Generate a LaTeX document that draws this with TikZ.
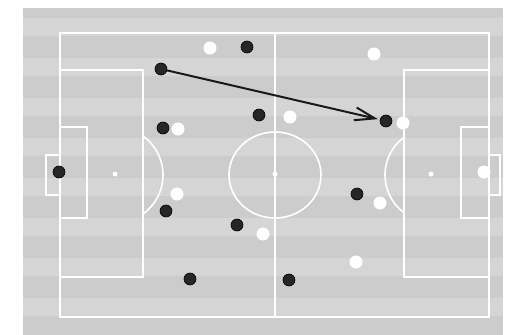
\documentclass[tikz,border=0pt]{standalone}
\usetikzlibrary{arrows.meta}
\begin{document}
\begin{tikzpicture}[x=1pt,y=-1pt,
  pitch/.style={draw=white,line width=1.6pt},
  bp/.style={circle,fill=black!85,draw=black,line width=0.6pt,minimum size=12pt,inner sep=0pt},
  wp/.style={circle,fill=white,minimum size=13pt,inner sep=0pt},
  spot/.style={circle,fill=white,minimum size=5pt,inner sep=0pt},
  pass/.style={draw=black!90,line width=2pt,shorten >=2pt,-{Straight Barb[length=20pt,width=13pt,line width=2pt]}}]
\useasboundingbox (0,0) rectangle (507,335);
\fill[white] (0,0) rectangle (507,335);
\fill[gray!40] (23,8) rectangle (503,335);
\foreach \y in {18,58,98,138,178,218,258,298}
  \fill[gray!33] (23,\y) rectangle (503,\y+18);
% pitch lines
\draw[pitch] (60,33) rectangle (489,317);
\draw[pitch] (275,33) -- (275,317);
\draw[pitch] (275,175) ellipse [x radius=46, y radius=43];
\draw[pitch] (60,70) rectangle (143,277);
\draw[pitch] (60,127) rectangle (87,218);
\draw[pitch] (46,155) rectangle (60,195);
\draw[pitch] (404,70) rectangle (489,277);
\draw[pitch] (461,127) rectangle (489,218);
\draw[pitch] (489,155) rectangle (500,195);
\begin{scope}
  \clip (144,0) rectangle (220,335);
  \draw[pitch] (115,175) circle (48);
\end{scope}
\begin{scope}
  \clip (330,0) rectangle (403,335);
  \draw[pitch] (432,175) circle (47);
\end{scope}
\node[spot] (ps1) at (115,174) {};
\node[spot] (ps2) at (431,174) {};
\node[spot] (cs) at (275,174) {};
% black team
\node[bp] (b1) at (247,47) {};
\node[bp] (b2) at (161,69) {};
\node[bp] (b3) at (163,128) {};
\node[bp] (b4) at (259,115) {};
\node[bp] (b5) at (386,121) {};
\node[bp] (b6) at (59,172) {};
\node[bp] (b7) at (166,211) {};
\node[bp] (b8) at (237,225) {};
\node[bp] (b9) at (190,279) {};
\node[bp] (b10) at (357,194) {};
\node[bp] (b11) at (289,280) {};
% white team
\node[wp] (w1) at (210,48) {};
\node[wp] (w2) at (374,54) {};
\node[wp] (w3) at (178,129) {};
\node[wp] (w4) at (290,117) {};
\node[wp] (w5) at (403,123) {};
\node[wp] (w6) at (177,194) {};
\node[wp] (w7) at (380,203) {};
\node[wp] (w8) at (263,234) {};
\node[wp] (w9) at (356,262) {};
\node[wp] (w10) at (484,172) {};
% pass
\draw[pass] (b2) -- (b5);
\end{tikzpicture}
\end{document}
